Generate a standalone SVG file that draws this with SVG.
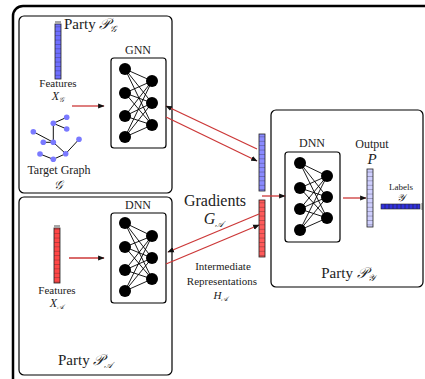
<svg xmlns="http://www.w3.org/2000/svg" width="425" height="379" viewBox="0 0 425 379">
<defs>
<style>
.box{fill:#fff;stroke:#000;stroke-width:1.2}
.t{font-family:"Liberation Serif","Times New Roman",serif;fill:#222}
.m{font-family:"Liberation Serif","Times New Roman",serif;font-style:italic;fill:#222}
.red{stroke:#cc3838;stroke-width:1.3;fill:none}
.nn line{stroke:#000;stroke-width:0.9}
.nn circle{fill:#000}
.cell{stroke:#222;stroke-width:0.6}
.g line{stroke:#111;stroke-width:1}
.g circle{fill:#7a7aff}
</style>
<marker id="ah" viewBox="0 0 10 10" refX="9" refY="5" markerWidth="5" markerHeight="5" orient="auto">
<path d="M0,1 L10,5 L0,9 z" fill="#111"/>
</marker>
<pattern id="vc" width="6" height="4.4" patternUnits="userSpaceOnUse">
<line x1="0" y1="0" x2="6" y2="0" stroke="#222" stroke-width="0.6"/>
</pattern>
</defs>

<!-- outer frame -->
<rect x="13" y="6" width="440" height="400" rx="10" fill="none" stroke="#000" stroke-width="2.5"/>

<!-- Party P_G -->
<g id="party-g">
<rect class="box" x="19" y="16" width="153" height="177" rx="5"/>
<text class="t" x="64" y="29" font-size="15">Party <tspan class="m">𝒫<tspan font-size="9" dy="3">𝒢</tspan></tspan></text>
<line x1="55" y1="22" x2="61" y2="22" stroke="#222" stroke-width="0.8"/>
<rect x="55" y="24" width="6" height="55" fill="#6e6eff" stroke="#222" stroke-width="0.8"/>
<rect x="55" y="24" width="6" height="55" fill="url(#vc)"/>
<text class="t" x="58" y="87" font-size="11" text-anchor="middle">Features</text>
<text class="m" x="58" y="100" font-size="12" text-anchor="middle">X<tspan font-size="7" dy="2">𝒢</tspan></text>
<g class="g">
<line x1="53.3" y1="123.3" x2="66.7" y2="117.3"/>
<line x1="53.3" y1="123.3" x2="66.7" y2="129"/>
<line x1="53.3" y1="123.3" x2="53.3" y2="142.3"/>
<line x1="33.3" y1="131.7" x2="53.3" y2="142.3"/>
<line x1="43.3" y1="142.3" x2="53.3" y2="142.3"/>
<line x1="53.3" y1="142.3" x2="65.7" y2="153.7"/>
<line x1="65.7" y1="153.7" x2="79" y2="139.3"/>
<line x1="40" y1="154" x2="53.3" y2="159.3"/>
<line x1="53.3" y1="159.3" x2="65.7" y2="153.7"/>
<circle cx="66.7" cy="117.3" r="2.8"/><circle cx="53.3" cy="123.3" r="2.8"/>
<circle cx="66.7" cy="129" r="2.8"/><circle cx="33.3" cy="131.7" r="2.8"/>
<circle cx="43.3" cy="142.3" r="2.8"/><circle cx="53.3" cy="142.3" r="2.8"/>
<circle cx="79" cy="139.3" r="2.8"/><circle cx="40" cy="154" r="2.8"/>
<circle cx="65.7" cy="153.7" r="2.8"/><circle cx="53.3" cy="159.3" r="2.8"/>
</g>
<text class="t" x="59" y="174" font-size="12" text-anchor="middle">Target Graph</text>
<text class="m" x="58" y="189" font-size="12" text-anchor="middle">𝒢</text>
<text class="t" x="138" y="54" font-size="12" text-anchor="middle">GNN</text>
<rect class="box" x="111" y="58" width="55" height="90" rx="3"/>
<g class="nn">
<line x1="125" y1="69" x2="152" y2="81"/><line x1="125" y1="69" x2="152" y2="103"/><line x1="125" y1="69" x2="152" y2="125"/>
<line x1="125" y1="93" x2="152" y2="81"/><line x1="125" y1="93" x2="152" y2="103"/><line x1="125" y1="93" x2="152" y2="125"/>
<line x1="125" y1="116" x2="152" y2="81"/><line x1="125" y1="116" x2="152" y2="103"/><line x1="125" y1="116" x2="152" y2="125"/>
<line x1="125" y1="137" x2="152" y2="81"/><line x1="125" y1="137" x2="152" y2="103"/><line x1="125" y1="137" x2="152" y2="125"/>
<circle cx="125" cy="69" r="6"/><circle cx="125" cy="93" r="6"/><circle cx="125" cy="116" r="6"/><circle cx="125" cy="137" r="6"/>
<circle cx="152" cy="81" r="6"/><circle cx="152" cy="103" r="6"/><circle cx="152" cy="125" r="6"/>
</g>
</g>

<!-- Party P_A -->
<g id="party-a">
<rect class="box" x="19" y="197" width="153" height="178" rx="5"/>
<line x1="54" y1="226" x2="60" y2="226" stroke="#222" stroke-width="0.8"/>
<rect x="54" y="228" width="6" height="55" fill="#ff4646" stroke="#222" stroke-width="0.8"/>
<rect x="54" y="228" width="6" height="55" fill="url(#vc)"/>
<text class="t" x="57" y="294" font-size="11" text-anchor="middle">Features</text>
<text class="m" x="57" y="307" font-size="12" text-anchor="middle">X<tspan font-size="7" dy="2">𝒜</tspan></text>
<text class="t" x="138" y="209" font-size="12" text-anchor="middle">DNN</text>
<rect class="box" x="111" y="213" width="55" height="90" rx="3"/>
<g class="nn">
<line x1="125" y1="223" x2="152" y2="236"/><line x1="125" y1="223" x2="152" y2="258"/><line x1="125" y1="223" x2="152" y2="279"/>
<line x1="125" y1="247" x2="152" y2="236"/><line x1="125" y1="247" x2="152" y2="258"/><line x1="125" y1="247" x2="152" y2="279"/>
<line x1="125" y1="270" x2="152" y2="236"/><line x1="125" y1="270" x2="152" y2="258"/><line x1="125" y1="270" x2="152" y2="279"/>
<line x1="125" y1="291" x2="152" y2="236"/><line x1="125" y1="291" x2="152" y2="258"/><line x1="125" y1="291" x2="152" y2="279"/>
<circle cx="125" cy="223" r="6"/><circle cx="125" cy="247" r="6"/><circle cx="125" cy="270" r="6"/><circle cx="125" cy="291" r="6"/>
<circle cx="152" cy="236" r="6"/><circle cx="152" cy="258" r="6"/><circle cx="152" cy="279" r="6"/>
</g>
<text class="t" x="58" y="365" font-size="15">Party <tspan class="m">𝒫<tspan font-size="9" dy="3">𝒜</tspan></tspan></text>
</g>

<!-- Party P_Y -->
<g id="party-y">
<rect class="box" x="271" y="110" width="152" height="177" rx="5"/>
<text class="t" x="312" y="147" font-size="12" text-anchor="middle">DNN</text>
<rect class="box" x="285" y="152" width="55" height="90" rx="3"/>
<g class="nn">
<line x1="300" y1="163" x2="327" y2="176"/><line x1="300" y1="163" x2="327" y2="197"/><line x1="300" y1="163" x2="327" y2="218"/>
<line x1="300" y1="188" x2="327" y2="176"/><line x1="300" y1="188" x2="327" y2="197"/><line x1="300" y1="188" x2="327" y2="218"/>
<line x1="300" y1="209" x2="327" y2="176"/><line x1="300" y1="209" x2="327" y2="197"/><line x1="300" y1="209" x2="327" y2="218"/>
<line x1="300" y1="230" x2="327" y2="176"/><line x1="300" y1="230" x2="327" y2="197"/><line x1="300" y1="230" x2="327" y2="218"/>
<circle cx="300" cy="163" r="6"/><circle cx="300" cy="188" r="6"/><circle cx="300" cy="209" r="6"/><circle cx="300" cy="230" r="6"/>
<circle cx="327" cy="176" r="6"/><circle cx="327" cy="197" r="6"/><circle cx="327" cy="218" r="6"/>
</g>
<text class="t" x="372" y="148" font-size="12" text-anchor="middle">Output</text>
<text class="m" x="372" y="164" font-size="15" text-anchor="middle">P</text>
<rect x="367" y="169" width="6" height="58" fill="#cfcfff" stroke="#222" stroke-width="0.8"/>
<rect x="367" y="169" width="6" height="58" fill="url(#vc)"/>
<text class="t" x="401" y="190" font-size="9" text-anchor="middle">Labels</text>
<text class="m" x="401" y="201" font-size="10" text-anchor="middle">𝒴</text>
<rect x="381" y="204" width="39" height="5" fill="#3030dd" stroke="#222" stroke-width="0.6"/>
<g class="cell">
<line x1="385" y1="204" x2="385" y2="209"/><line x1="389" y1="204" x2="389" y2="209"/><line x1="393" y1="204" x2="393" y2="209"/>
<line x1="397" y1="204" x2="397" y2="209"/><line x1="401" y1="204" x2="401" y2="209"/><line x1="405" y1="204" x2="405" y2="209"/>
<line x1="409" y1="204" x2="409" y2="209"/><line x1="413" y1="204" x2="413" y2="209"/><line x1="417" y1="204" x2="417" y2="209"/>
</g>
<line x1="422" y1="203" x2="422" y2="210" stroke="#222" stroke-width="0.6"/>
<text class="t" x="348" y="278" font-size="15" text-anchor="middle">Party <tspan class="m">𝒫<tspan font-size="9" dy="3">𝒴</tspan></tspan></text>
</g>

<!-- intermediate representation bars -->
<g id="bars">
<rect x="259" y="134" width="6" height="57" fill="#8a8aff" stroke="#222" stroke-width="0.8"/>
<rect x="259" y="134" width="6" height="57" fill="url(#vc)"/>
<rect x="259" y="200" width="6" height="57" fill="#ff5a5a" stroke="#222" stroke-width="0.8"/>
<rect x="259" y="200" width="6" height="57" fill="url(#vc)"/>
</g>

<!-- labels between parties -->
<g id="labels">
<text class="t" x="215" y="206" font-size="16" text-anchor="middle">Gradients</text>
<text class="m" x="214" y="224" font-size="16" text-anchor="middle">G<tspan font-size="9" dy="3">𝒜</tspan></text>
<text class="t" x="223" y="270" font-size="11" text-anchor="middle">Intermediate</text>
<text class="t" x="222" y="285" font-size="11" text-anchor="middle">Representations</text>
<text class="m" x="221" y="299" font-size="11" text-anchor="middle">H<tspan font-size="7" dy="2">𝒜</tspan></text>
</g>

<!-- connectors -->
<g id="connectors">
<line class="red" x1="72" y1="106" x2="104" y2="106" marker-end="url(#ah)"/>
<line class="red" x1="69" y1="258" x2="104" y2="258" marker-end="url(#ah)"/>
<line class="red" x1="257" y1="149" x2="166" y2="106" marker-end="url(#ah)"/>
<line class="red" x1="166" y1="117" x2="257" y2="161" marker-end="url(#ah)"/>
<line class="red" x1="259" y1="214" x2="168" y2="252" marker-end="url(#ah)"/>
<line class="red" x1="166" y1="264" x2="259" y2="225" marker-end="url(#ah)"/>
<line class="red" x1="262" y1="196" x2="285" y2="196" marker-end="url(#ah)"/>
<line class="red" x1="343" y1="198" x2="366" y2="198" marker-end="url(#ah)"/>
</g>
</svg>
